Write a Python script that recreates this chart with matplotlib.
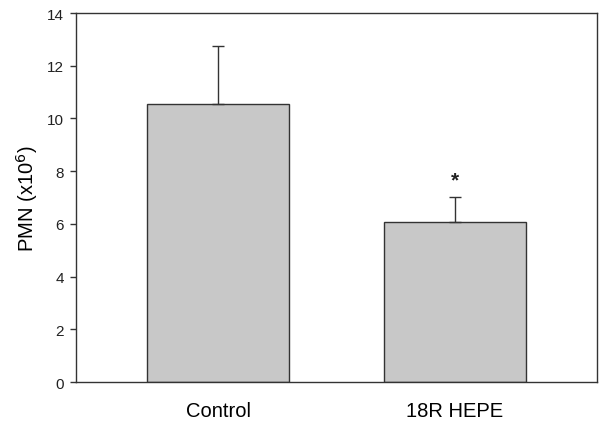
import matplotlib.pyplot as plt

plt.rcParams['font.family'] = ['Liberation Sans', 'DejaVu Sans']

groups = ['Control', '18R HEPE']
means = [10.55, 6.08]
errs = [2.2, 0.94]
ytick_vals = [0, 2, 4, 6, 8, 10, 12, 14]

fig = plt.figure(figsize=(6.14, 4.27), dpi=100)
ax = fig.add_axes([0.124, 0.103, 0.848, 0.864])

x = list(range(len(groups)))
ax.bar(x, means, width=0.6, color='#c8c8c8', edgecolor='#333333', linewidth=1.0,
       yerr=[[0] * len(errs), errs], capsize=4.5,
       error_kw=dict(ecolor='#333333', elinewidth=1.0, capthick=1.0))

# significance mark
ax.text(1, means[1] + errs[1] + 0.3, '*', ha='center', va='bottom', fontsize=15,
        fontweight='bold', color='#222222')

ax.set_xlim(-0.6, 1.6)
ax.set_ylim(0, 14)
ax.set_yticks(ytick_vals)
ax.set_xticks(x)
ax.set_xticklabels(groups, fontsize=14.5)
ax.tick_params(axis='x', length=0, pad=14)
ax.tick_params(axis='y', length=4, width=1, labelsize=11, colors='#333333', labelcolor='#222222', pad=5)
ax.set_ylabel('PMN (x10$^6$)', fontsize=14.5, labelpad=5)
for s in ax.spines.values():
    s.set_color('#333333')
    s.set_linewidth(1.0)

fig.savefig('out.png', dpi=100)
